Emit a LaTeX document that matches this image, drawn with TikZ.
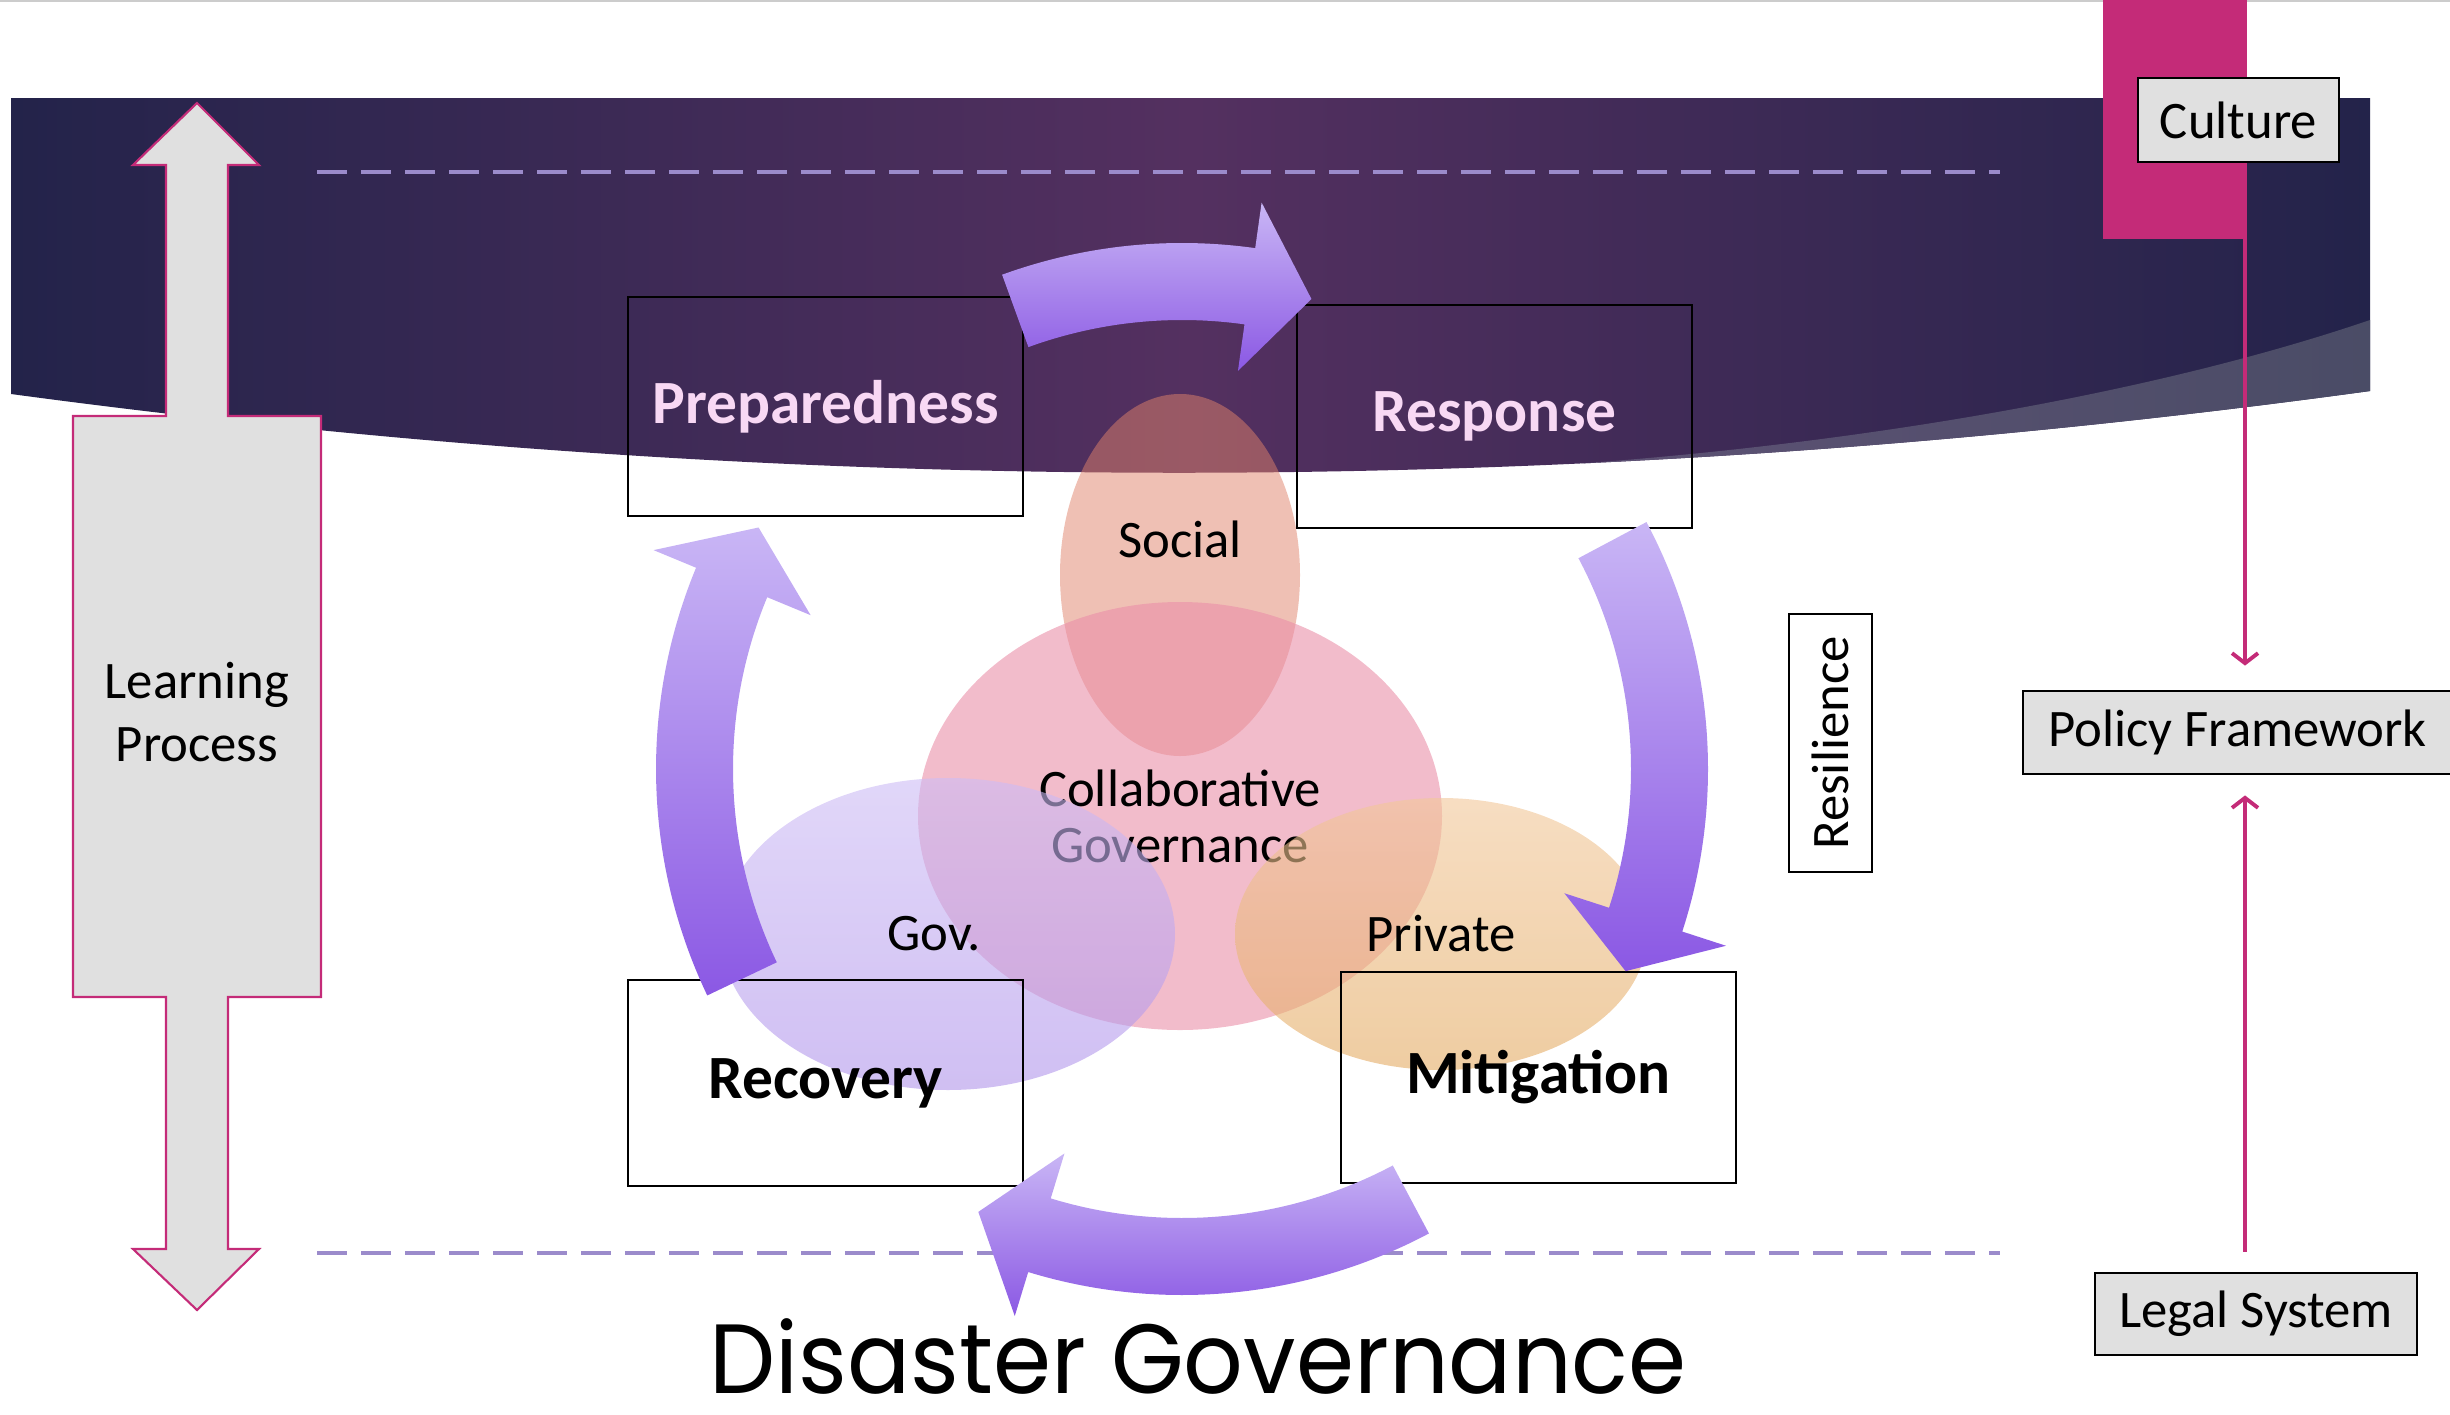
\documentclass[tikz,border=0pt]{standalone}
\usepackage{fontspec}
\setmainfont{Carlito}
\newfontfamily\titlefont{Poppins}
\usetikzlibrary{calc,positioning,arrows.meta,shapes.geometric}

\definecolor{bannermid}{HTML}{543060}
\definecolor{bannerside}{HTML}{23234A}
\definecolor{wedgeleft}{HTML}{5E5275}
\definecolor{wedgeright}{HTML}{4A4C66}
\definecolor{dashcol}{HTML}{9B8BCB}
\definecolor{culturecol}{HTML}{C42B78}
\definecolor{boxgray}{HTML}{E0E0E0}
\definecolor{labelpink}{HTML}{F8D8F4}
\definecolor{arrowlight}{HTML}{C9B6F5}
\definecolor{arrowdark}{HTML}{8B58E4}
\definecolor{socialcol}{HTML}{E0826A}
\definecolor{collabcol}{HTML}{EA8FA9}
\definecolor{govtop}{HTML}{CDBCF5}
\definecolor{govbot}{HTML}{B094EA}
\definecolor{privtop}{HTML}{F1C799}
\definecolor{privbot}{HTML}{E4AB63}

% one arrow of the cycle: tail angle, base of head, tip of head
\newcommand{\cycarrow}[3]{%
  \shade[top color=arrowlight,bottom color=arrowdark]
    ($(c)+(#1:5.26)$) arc[start angle=#1,end angle=#2,radius=5.26]
    -- ($(c)+(#2:5.72)$) -- ($(c)+(#3:4.875)$) -- ($(c)+(#2:4.02)$)
    -- ($(c)+(#2:4.49)$) arc[start angle=#2,end angle=#1,radius=4.49] -- cycle;}

\tikzset{
  lbl/.style={font=\fontsize{15}{18}\selectfont},
  cycbox/.style={draw, line width=0.6pt, minimum width=3.95cm, inner sep=0pt,
    font=\bfseries\fontsize{17.5}{21}\selectfont},
  sidebox/.style={draw, fill=boxgray, line width=0.8pt, inner sep=0pt, lbl},
  blob/.style={ellipse, inner sep=0pt, text opacity=1, lbl},
  guideline/.style={dashcol, line width=1.4pt, dash pattern=on 0.30cm off 0.14cm},
  polarrow/.style={culturecol, line width=1.1pt, -{Straight Barb[length=1mm,width=2.6mm]}}
}

\begin{document}
\begin{tikzpicture}
  \useasboundingbox (0,0) rectangle (24.5,-14.14);
  \draw[black!20, line width=0.5pt] (0,-0.01) -- (24.5,-0.01);

  % banner
  \shade[left color=bannerside, right color=bannerside, middle color=bannermid]
    (0.11,-0.98) -- (23.70,-0.98) -- (23.70,-3.91)
    .. controls (15.83,-4.99) and (7.97,-5.00) .. (0.11,-3.94) -- cycle;
  \begin{scope}
    \clip (0.11,-0.98) -- (23.70,-0.98) -- (23.70,-3.91)
      .. controls (15.83,-4.99) and (7.97,-5.00) .. (0.11,-3.94) -- cycle;
    \shade[left color=wedgeleft, right color=wedgeright]
      (23.70,-3.20) .. controls (21.5,-3.95) and (18.5,-4.45) .. (15.6,-4.65)
      -- (15.6,-6) -- (23.8,-6) -- cycle;
  \end{scope}

  \draw[guideline] (3.17,-1.72) -- (20.0,-1.72);
  \draw[guideline] (3.17,-12.53) -- (20.0,-12.53);

  % learning process arrow
  \filldraw[fill=boxgray, draw=culturecol, line width=0.6pt]
    (1.97,-1.03) -- (2.59,-1.65) -- (2.28,-1.65) -- (2.28,-4.16) -- (3.21,-4.16)
    -- (3.21,-9.97) -- (2.28,-9.97) -- (2.28,-12.49) -- (2.59,-12.49) -- (1.97,-13.10)
    -- (1.33,-12.49) -- (1.66,-12.49) -- (1.66,-9.97) -- (0.73,-9.97) -- (0.73,-4.16)
    -- (1.66,-4.16) -- (1.66,-1.65) -- (1.33,-1.65) -- cycle;
  \node[lbl, align=center, font=\fontsize{15}{18}\selectfont] (learn) at (1.97,-7.12) {Learning\\Process};

  % culture column
  \fill[culturecol] (21.03,0) rectangle (22.47,-2.39);
  \node[sidebox, minimum width=2.01cm, minimum height=0.84cm] (cult) at (22.385,-1.20) {Culture};
  \node[sidebox, minimum width=4.29cm, minimum height=0.83cm] (policy) at (22.375,-7.325) {Policy Framework};
  \node[sidebox, minimum width=3.22cm, minimum height=0.82cm] (legal) at (22.56,-13.14) {Legal System};
  \coordinate (axis) at (22.45,0);
  \draw[polarrow, shorten >=2.4mm] (cult.south -| axis) -- (policy.north -| axis);
  \draw[polarrow, shorten <=2mm, shorten >=2mm] (legal.north -| axis) -- (policy.south -| axis);

  \node[draw, fill=white, line width=0.6pt, rotate=90, minimum width=2.58cm,
    minimum height=0.83cm, inner sep=0pt, lbl] (resil) at (18.305,-7.43) {Resilience};

  % governance actors
  \node[blob, fill=socialcol, fill opacity=.5, minimum width=2.40cm, minimum height=3.62cm] (social) at (11.80,-5.75) {};
  \node[lbl] (soctext) at (11.80,-5.39) {Social};
  \node[blob, fill=collabcol, fill opacity=.6, minimum width=5.24cm, minimum height=4.28cm,
    align=center, font=\fontsize{15}{16}\selectfont] (collab) at (11.80,-8.16) {Collaborative\\Governance};
  \node[blob, top color=govtop, bottom color=govbot, fill opacity=.6, minimum width=4.54cm,
    minimum height=3.12cm] (gov) at (9.48,-9.34) {\hspace*{-2.8mm}Gov.};
  \node[blob, top color=privtop, bottom color=privbot, fill opacity=.6, minimum width=4.12cm,
    minimum height=2.72cm] (priv) at (14.41,-9.34) {Private};

  % phases
  \node[cycbox, minimum height=2.19cm, text=labelpink] (prep) at (8.255,-4.065) {Preparedness};
  \node[cycbox, minimum height=2.23cm, text=labelpink] (resp) at (14.945,-4.165) {Response};
  \node[cycbox, minimum height=2.06cm] (recov) at (8.255,-10.83) {Recovery};
  \node[cycbox, minimum height=2.11cm] (mitig) at (15.385,-10.775) {Mitigation};

  \coordinate (c) at (11.82,-7.69);
  \cycarrow{110}{82}{74.6}
  \cycarrow{28}{-18}{-24.5}
  \cycarrow{-62}{-107}{-114.7}
  \cycarrow{205.5}{157.5}{150.3}

  \node[font=\titlefont\fontsize{28}{34}\selectfont, xscale=0.95, inner sep=0pt, anchor=base] (title) at (11.98,-13.93) {Disaster Governance};
\end{tikzpicture}
\end{document}
